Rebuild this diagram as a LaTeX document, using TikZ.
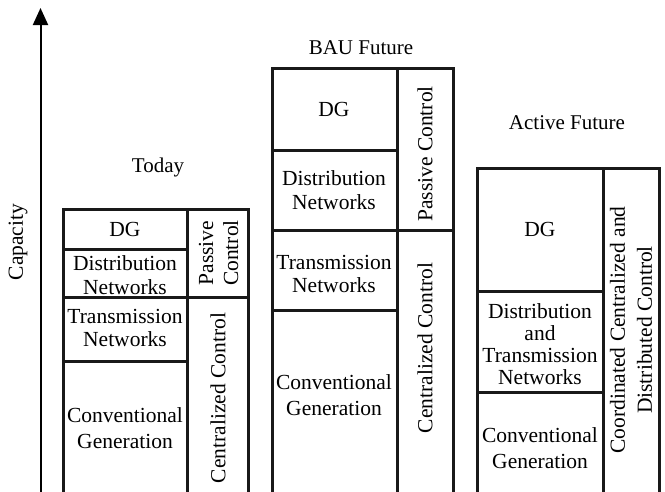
\documentclass[tikz,border=0pt]{standalone}
\usepackage{fontspec}
\setmainfont{Liberation Serif}
\usetikzlibrary{arrows.meta}
\begin{document}
\begin{tikzpicture}[x=1pt,y=-1pt,
  frame/.style={line width=3pt, draw=black!90},
  lbl/.style={inner sep=0pt, align=center, font=\fontsize{21.5}{23.5}\selectfont},
  vlbl/.style={lbl, rotate=90},
  ttl/.style={inner sep=0pt, font=\fontsize{21}{24}\selectfont}]
\useasboundingbox (0,0) rectangle (665,491);
\clip (0,0) rectangle (665,491);

% capacity axis
\coordinate (axisbase) at (40.5,500);
\coordinate (axistip) at (40.5,8);
\draw[line width=2pt, -{Triangle[width=15pt,length=17pt]}] (axisbase) -- (axistip);
\node[vlbl] (capacity) at (18,242) {Capacity};

% ---- Today ----
\draw[frame] (63,500) -- (63,209) -- (248,209) -- (248,500);
\draw[frame] (187,209) -- (187,500);
\draw[frame] (63,249) -- (187,249);
\draw[frame] (63,297) -- (248,297);
\draw[frame] (63,361) -- (187,361);
\node[ttl] (today) at (158,167) {Today};
\node[lbl] (tdg) at (125,229) {DG};
\node[lbl] (tdist) at (125,275) {Distribution\\Networks};
\node[lbl] (ttrans) at (125,328) {Transmission\\Networks};
\node[lbl, font=\fontsize{21.5}{25.5}\selectfont] (tconv) at (125,428) {Conventional\\Generation};
\node[vlbl, font=\fontsize{21.5}{25}\selectfont] (tpass) at (218.5,253) {Passive\\Control};
\node[vlbl] (tcent) at (218,398) {Centralized Control};

% ---- BAU Future ----
\draw[frame] (272,500) -- (272,68) -- (453,68) -- (453,500);
\draw[frame] (397,68) -- (397,500);
\draw[frame] (272,150) -- (397,150);
\draw[frame] (272,230) -- (453,230);
\draw[frame] (272,310) -- (397,310);
\node[ttl] (bau) at (361,48) {BAU Future};
\node[lbl] (bdg) at (334,109) {DG};
\node[lbl] (bdist) at (334,190) {Distribution\\Networks};
\node[lbl] (btrans) at (334,274) {Transmission\\Networks};
\node[lbl, font=\fontsize{21.5}{25.5}\selectfont] (bconv) at (334,395) {Conventional\\Generation};
\node[vlbl] (bpass) at (425,154) {Passive Control};
\node[vlbl] (bcent) at (425,348) {Centralized Control};

% ---- Active Future ----
\draw[frame] (477.5,500) -- (477.5,168) -- (659,168) -- (659,500);
\draw[frame] (603,168) -- (603,500);
\draw[frame] (477.5,291) -- (603,291);
\draw[frame] (477.5,392) -- (603,392);
\node[ttl] (act) at (567,123) {Active Future};
\node[lbl] (adg) at (540,229) {DG};
\node[lbl, font=\fontsize{21.5}{22}\selectfont] (adist) at (540,344) {Distribution\\and\\Transmission\\Networks};
\node[lbl, font=\fontsize{21.5}{25.5}\selectfont] (aconv) at (540,448) {Conventional\\Generation};
\node[vlbl, font=\fontsize{21.5}{27}\selectfont] (actl) at (631,330) {Coordinated Centralized and\\Distributed Control};
\end{tikzpicture}
\end{document}
